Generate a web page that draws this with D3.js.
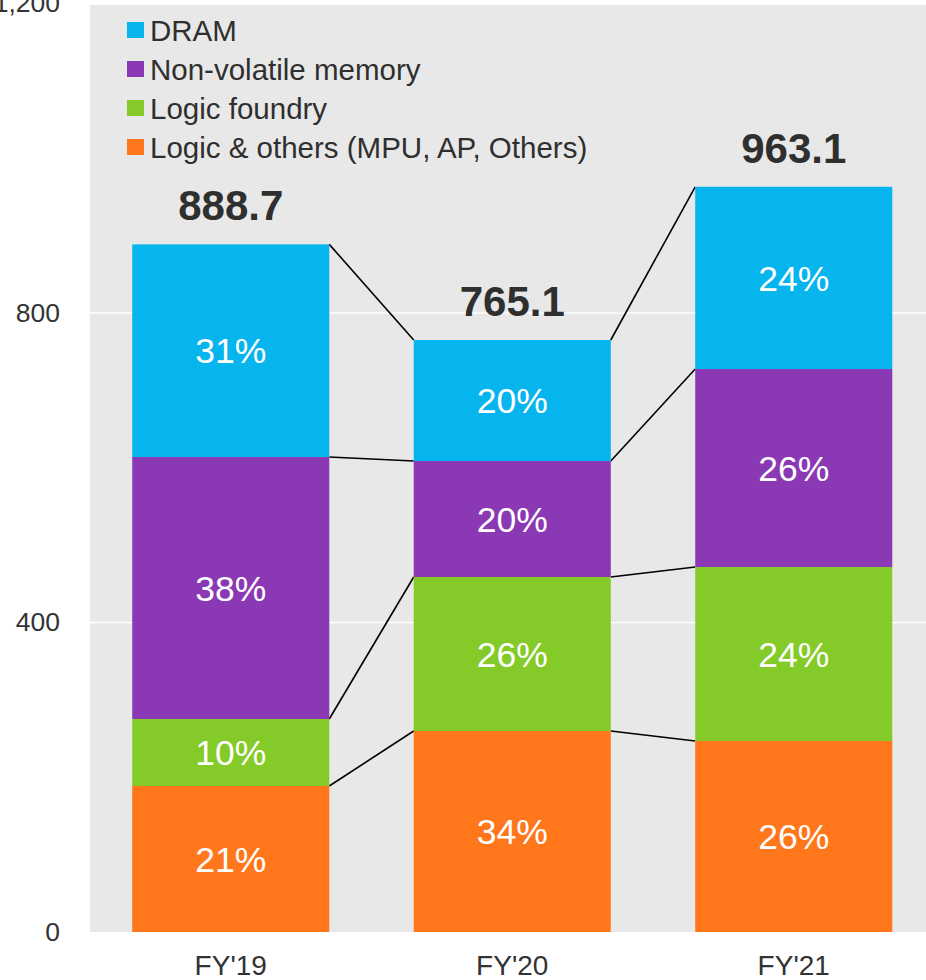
<!DOCTYPE html>
<html><head><meta charset="utf-8">
<script src="https://cdn.jsdelivr.net/npm/d3@7"></script>
<style>
html,body{margin:0;padding:0;background:#fff;}
svg{display:block;font-family:Arial,"Liberation Sans",Helvetica,sans-serif;}
</style></head>
<body>
<svg id="chart" width="926" height="980"></svg>
<script>
const categories = ["FY'19", "FY'20", "FY'21"];
const totals = [888.7, 765.1, 963.1];
const seriesNames = ["Logic & others (MPU, AP, Others)", "Logic foundry", "Non-volatile memory", "DRAM"];
const logicOthers = [188.7, 259.8, 246.8];
const logicFoundry = [86.6, 199.0, 224.9];
const nonVolatile = [338.6, 149.9, 255.9];
const dram = [274.8, 156.4, 235.5];
const pctLogicOthers = ["21%", "34%", "26%"];
const pctLogicFoundry = ["10%", "26%", "24%"];
const pctNonVolatile = ["38%", "20%", "26%"];
const pctDram = ["31%", "20%", "24%"];
const yTicks = [0, 400, 800, 1200];
const colors = ["#FF761B", "#84CA28", "#8A38B4", "#06B5EE"];

const seriesValues = [logicOthers, logicFoundry, nonVolatile, dram];
const seriesPct = [pctLogicOthers, pctLogicFoundry, pctNonVolatile, pctDram];

const svg = d3.select("#chart");
const left = 90, right = 934.5;
const x = d3.scaleBand().domain(categories).range([left, right]).paddingInner(0.3).paddingOuter(0.15);
const y = d3.scaleLinear().domain([0, 1200]).range([932, 3.5]);

// background
svg.append("rect").attr("x", left).attr("y", y(1200) + 1.5).attr("width", 926 - left)
  .attr("height", y(0) - y(1200) - 1.5).attr("fill", "#E8E8E8");

// gridlines
svg.append("g").selectAll("line").data(yTicks.filter(d => d > 0 && d < 1200)).join("line")
  .attr("x1", left).attr("x2", 926).attr("y1", d => y(d)).attr("y2", d => y(d))
  .attr("stroke", "#fff").attr("stroke-width", 1.5);

// y axis
const yAxis = d3.axisLeft(y).tickValues(yTicks).tickSize(0).tickPadding(0).tickFormat(d3.format(","));
const gy = svg.append("g").attr("transform", "translate(60,0)").call(yAxis);
gy.select(".domain").remove();
gy.selectAll("text").attr("font-size", 26.5).attr("fill", "#333").attr("font-family", "Arial, 'Liberation Sans', sans-serif");

// x axis
const xAxis = d3.axisBottom(x).tickSize(0).tickPadding(0);
const gx = svg.append("g").attr("transform", "translate(0,955)").call(xAxis);
gx.select(".domain").remove();
gx.selectAll("text").attr("font-size", 28).attr("fill", "#333").attr("dy", "0.71em").attr("font-family", "Arial, 'Liberation Sans', sans-serif");

// stack
const table = categories.map((c, i) => {
  const o = { cat: c };
  seriesNames.forEach((s, k) => o[s] = seriesValues[k][i]);
  return o;
});
const stack = d3.stack().keys(seriesNames)(table);

// connector lines
const conn = svg.append("g");
stack.forEach(layer => {
  for (let i = 0; i < categories.length - 1; i++) {
    conn.append("line")
      .attr("x1", x(categories[i]) + x.bandwidth()).attr("y1", y(layer[i][1]))
      .attr("x2", x(categories[i + 1])).attr("y2", y(layer[i + 1][1]))
      .attr("stroke", "#000").attr("stroke-width", 1.6);
  }
});

// bars
const gBars = svg.append("g");
stack.forEach((layer, k) => {
  gBars.append("g").selectAll("rect").data(layer).join("rect")
    .attr("x", d => x(d.data.cat)).attr("width", x.bandwidth())
    .attr("y", d => y(d[1])).attr("height", d => y(d[0]) - y(d[1]))
    .attr("fill", colors[k]);
  gBars.append("g").selectAll("text").data(layer).join("text")
    .attr("x", d => x(d.data.cat) + x.bandwidth() / 2)
    .attr("y", d => (y(d[0]) + y(d[1])) / 2)
    .attr("dy", "0.36em")
    .attr("text-anchor", "middle").attr("fill", "#fff").attr("font-size", 35.5)
    .text((d, i) => seriesPct[k][i]);
});

// totals
svg.append("g").selectAll("text").data(categories).join("text")
  .attr("x", d => x(d) + x.bandwidth() / 2)
  .attr("y", (d, i) => y(totals[i]) - 24)
  .attr("text-anchor", "middle").attr("font-weight", "bold").attr("font-size", 42).attr("fill", "#2f2f2f")
  .text((d, i) => totals[i].toFixed(1));

// legend
const legendOrder = [3, 2, 1, 0];
const lg = svg.append("g");
legendOrder.forEach((k, j) => {
  const cy = 30 + j * 39;
  lg.append("rect").attr("x", 127).attr("y", cy - 8).attr("width", 17).attr("height", 16).attr("fill", colors[k]);
  lg.append("text").attr("x", 150).attr("y", cy).attr("dy", "0.36em")
    .attr("font-size", 29.5).attr("fill", "#2f2f2f").text(seriesNames[k]);
});
</script>
</body></html>
